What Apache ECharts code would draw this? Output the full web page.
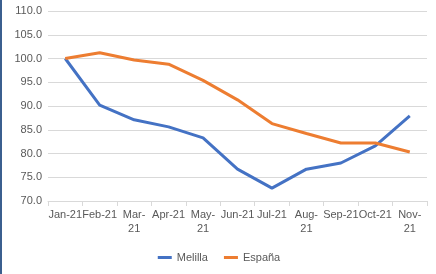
<!DOCTYPE html>
<html>
<head>
<meta charset="utf-8">
<script src="https://cdn.jsdelivr.net/npm/echarts@6/dist/echarts.min.js"></script>
<style>
  html, body { margin: 0; padding: 0; background: #fff; }
  #container { width: 436px; height: 274px; border-left: 2px solid #3b5f8f; box-sizing: border-box; }
</style>
</head>
<body>
<div id="container"></div>
<script>
// categorias (meses)
var categories = ['Jan-21', 'Feb-21', 'Mar-21', 'Apr-21', 'May-21', 'Jun-21', 'Jul-21', 'Aug-21', 'Sep-21', 'Oct-21', 'Nov-21'];
// etiquetas que Excel parte en dos lineas
var wrapped = ['Mar-21', 'May-21', 'Aug-21', 'Nov-21'];
var melilla = [100.0, 90.2, 87.1, 85.6, 83.3, 76.7, 72.7, 76.7, 78.0, 81.6, 87.9];
var espana = [100.0, 101.2, 99.7, 98.8, 95.4, 91.3, 86.3, 84.2, 82.2, 82.2, 80.3];

var myChart = echarts.init(document.getElementById('container'));
var textColor = '#595959';
var option = {
  animation: false,
  grid: { left: 46, right: 9, top: 11, bottom: 73 },
  legend: {
    bottom: 6,
    left: 'center',
    itemWidth: 14,
    itemHeight: 3,
    itemGap: 16,
    icon: 'rect',
    textStyle: { color: textColor, fontSize: 11, fontFamily: 'Liberation Sans' },
    data: ['Melilla', 'España']
  },
  xAxis: {
    type: 'category',
    data: categories,
    boundaryGap: true,
    axisLine: { lineStyle: { color: '#d9d9d9' } },
    axisTick: { show: true, length: 5, lineStyle: { color: '#d9d9d9' } },
    axisLabel: {
      color: textColor, fontSize: 11, fontFamily: 'Liberation Sans', interval: 0, margin: 7, lineHeight: 14,
      formatter: function (v) {
        return wrapped.indexOf(v) >= 0 ? v.replace('-', '-\n') : v;
      }
    }
  },
  yAxis: {
    type: 'value',
    min: 70, max: 110, interval: 5,
    axisLine: { show: false },
    axisTick: { show: false },
    axisLabel: {
      color: textColor, fontSize: 11, fontFamily: 'Liberation Sans', margin: 6,
      formatter: function (v) { return v.toFixed(1); }
    },
    splitLine: { lineStyle: { color: '#d9d9d9' } }
  },
  series: [
    {
      name: 'Melilla', type: 'line', data: melilla, symbol: 'none',
      lineStyle: { width: 3, color: '#4472C4' }, itemStyle: { color: '#4472C4' }
    },
    {
      name: 'España', type: 'line', data: espana, symbol: 'none',
      lineStyle: { width: 3, color: '#ED7D31' }, itemStyle: { color: '#ED7D31' }
    }
  ]
};
myChart.setOption(option);
</script>
</body>
</html>
